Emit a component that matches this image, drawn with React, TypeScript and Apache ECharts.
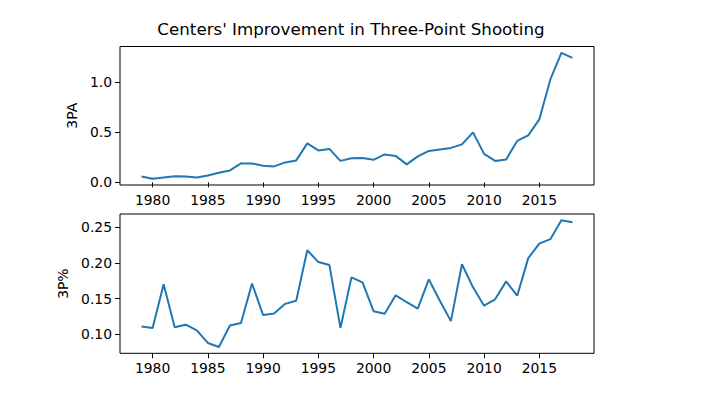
import React, { useEffect, useRef } from "react";
import * as echarts from "echarts";

const years: number[] = [];
for (let y = 1979; y <= 2018; y++) years.push(y);

const threePA: number[] = [
  0.06, 0.037, 0.05, 0.062, 0.06, 0.05, 0.07, 0.096, 0.12, 0.19,
  0.19, 0.166, 0.16, 0.2, 0.22, 0.39, 0.32, 0.335, 0.215, 0.242,
  0.245, 0.226, 0.28, 0.265, 0.18, 0.26, 0.315, 0.33, 0.345, 0.38,
  0.5, 0.285, 0.215, 0.23, 0.415, 0.47, 0.63, 1.03, 1.296, 1.246,
];

const threePct: number[] = [
  0.111, 0.109, 0.17, 0.11, 0.1135, 0.1056, 0.088, 0.0824, 0.1125, 0.116,
  0.171, 0.127, 0.129, 0.1426, 0.147, 0.2176, 0.201, 0.197, 0.109, 0.1796,
  0.1727, 0.1324, 0.1287, 0.1546, 0.1449, 0.136, 0.1768, 0.147, 0.1185, 0.198,
  0.1657, 0.14, 0.149, 0.174, 0.154, 0.2065, 0.2268, 0.233, 0.2593, 0.2565,
];

const xTicks = [1980, 1985, 1990, 1995, 2000, 2005, 2010, 2015];
const topTicks = [0.0, 0.5, 1.0];
const bottomTicks = [0.1, 0.15, 0.2, 0.25];

const titleText = "Centers' Improvement in Three-Point Shooting";

function margins(vals: number[]) {
  const mn = Math.min(...vals);
  const mx = Math.max(...vals);
  const r = mx - mn;
  return [mn - r * 0.05, mx + r * 0.05];
}

const FONT = "DejaVu Sans";

export default function App() {
  const ref = useRef<HTMLDivElement>(null);
  useEffect(() => {
    document.body.style.margin = "0";
    const chart = echarts.init(ref.current!, undefined, { renderer: "svg" });
    const [xmin, xmax] = margins(years);
    const [t0, t1] = margins(threePA);
    const [b0, b1] = margins(threePct);
    const xAxisCommon = (gridIndex: number) => ({
      type: "value" as const,
      gridIndex,
      min: xmin,
      max: xmax,
      splitLine: { show: false },
      axisLine: { show: false },
      axisTick: {
        show: true,
        inside: false,
        length: 5,
        lineStyle: { color: "#000", width: 1 },
        customValues: xTicks,
      },
      axisLabel: {
        show: true,
        margin: 8,
        color: "#000",
        fontFamily: FONT,
        fontSize: 13.9,
        customValues: xTicks,
        formatter: (v: number) => String(Math.round(v)),
      },
    });
    const yAxis = (
      gridIndex: number,
      min: number,
      max: number,
      ticks: number[],
      digits: number,
      name: string,
      gap: number
    ) => ({
      type: "value" as const,
      gridIndex,
      min,
      max,
      name,
      nameLocation: "middle" as const,
      nameRotate: 90,
      nameGap: gap,
      nameTextStyle: { fontFamily: FONT, fontSize: 13.9, color: "#000" },
      splitLine: { show: false },
      axisLine: { show: false },
      axisTick: {
        show: true,
        inside: false,
        length: 5,
        lineStyle: { color: "#000", width: 1 },
        customValues: ticks,
      },
      axisLabel: {
        show: true,
        margin: 8,
        color: "#000",
        fontFamily: FONT,
        fontSize: 13.9,
        customValues: ticks,
        formatter: (v: number) => v.toFixed(digits),
      },
    });
    chart.setOption({
      animation: false,
      backgroundColor: "#fff",
      graphic: [
        {
          type: "text",
          x: 351,
          y: 29,
          style: {
            text: titleText,
            fontFamily: FONT,
            fontSize: 16.7,
            fill: "#000",
            textAlign: "center",
            textVerticalAlign: "middle",
          },
        },
      ],
      grid: [
        {
          left: 120,
          top: 46.5,
          width: 474,
          height: 138.5,
          show: true,
          borderColor: "#000",
          borderWidth: 1,
          backgroundColor: "transparent",
        },
        {
          left: 120,
          top: 214,
          width: 474,
          height: 139.3,
          show: true,
          borderColor: "#000",
          borderWidth: 1,
          backgroundColor: "transparent",
        },
      ],
      xAxis: [xAxisCommon(0), xAxisCommon(1)],
      yAxis: [
        yAxis(0, t0, t1, topTicks, 1, "3PA", 37),
        yAxis(1, b0, b1, bottomTicks, 2, "3P%", 46),
      ],
      series: [
        {
          type: "line",
          xAxisIndex: 0,
          yAxisIndex: 0,
          data: years.map((y, i) => [y, threePA[i]]),
          showSymbol: false,
          symbol: "none",
          lineStyle: { color: "#1f77b4", width: 2 },
          itemStyle: { color: "#1f77b4" },
        },
        {
          type: "line",
          xAxisIndex: 1,
          yAxisIndex: 1,
          data: years.map((y, i) => [y, threePct[i]]),
          showSymbol: false,
          symbol: "none",
          lineStyle: { color: "#1f77b4", width: 2 },
          itemStyle: { color: "#1f77b4" },
        },
      ],
    });
    return () => chart.dispose();
  }, []);
  return (
    <div
      ref={ref}
      style={{ position: "fixed", left: 0, top: 0, width: 709, height: 399 }}
    />
  );
}
